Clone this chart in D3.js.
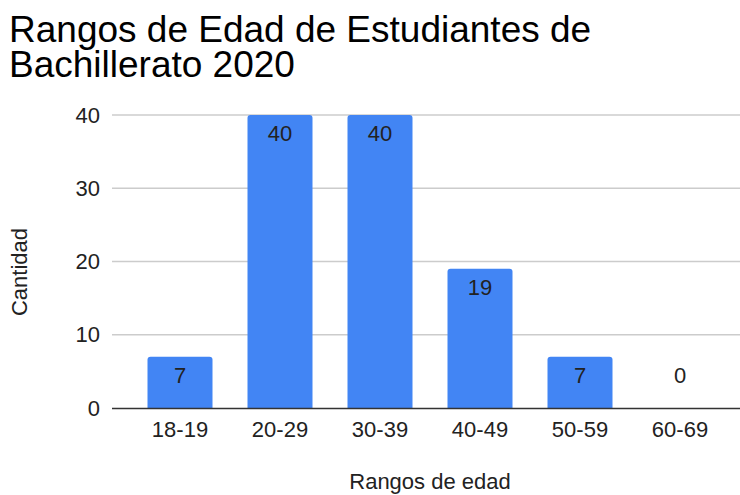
<!DOCTYPE html>
<html>
<head>
<meta charset="utf-8">
<script src="https://cdn.jsdelivr.net/npm/d3@7"></script>
<style>
  body { margin: 0; background: #fff; }
  text { font-family: "Liberation Sans", Arial, sans-serif; }
</style>
</head>
<body>
<script>
// datos
const rangos = ["18-19", "20-29", "30-39", "40-49", "50-59", "60-69"]
const cantidad = [7, 40, 40, 19, 7, 0]
const ticksY = [0, 10, 20, 30, 40]
const tituloLineas = ["Rangos de Edad de Estudiantes de", "Bachillerato 2020"]

const W = 740, H = 495
const area = { left: 112, right: 740, top: 115, bottom: 408 }
const fs = 22

const svg = d3.select("body").append("svg")
    .attr("width", W)
    .attr("height", H)

// escalas
const x = d3.scaleBand()
    .domain(rangos)
    .range([130, 730])
    .paddingInner(0.35)
    .paddingOuter(0.175)

const y = d3.scaleLinear()
    .domain([0, 40])
    .range([area.bottom, area.top])

// lineas de la cuadricula
svg.append("g")
    .selectAll("line")
    .data(ticksY.filter(d => d > 0))
    .join("line")
    .attr("x1", area.left)
    .attr("x2", area.right)
    .attr("y1", d => y(d))
    .attr("y2", d => y(d))
    .attr("stroke", "#cccccc")
    .attr("stroke-width", 1.3)

// etiquetas eje Y
svg.append("g")
    .selectAll("text")
    .data(ticksY)
    .join("text")
    .attr("x", 100)
    .attr("y", d => y(d) + 7.5)
    .attr("text-anchor", "end")
    .attr("font-size", fs)
    .attr("fill", "#222")
    .text(d => d)

// barras (esquinas superiores redondeadas)
function barra(d, i) {
    const x0 = x(rangos[i]), w = x.bandwidth()
    const top = y(d), bot = y(0), r = Math.min(3, bot - top)
    if (bot - top <= 0) return ""
    return `M${x0},${bot}V${top + r}Q${x0},${top} ${x0 + r},${top}H${x0 + w - r}Q${x0 + w},${top} ${x0 + w},${top + r}V${bot}Z`
}

svg.append("g")
    .selectAll("path")
    .data(cantidad)
    .join("path")
    .attr("d", barra)
    .attr("fill", "#4285f4")

// etiquetas de valores
svg.append("g")
    .selectAll("text")
    .data(cantidad)
    .join("text")
    .attr("x", (d, i) => x(rangos[i]) + x.bandwidth() / 2)
    .attr("y", d => d > 3 ? y(d) + 26 : y(0) - 25)
    .attr("text-anchor", "middle")
    .attr("font-size", fs)
    .attr("fill", "#222")
    .text(d => d)

// linea base
svg.append("line")
    .attr("x1", area.left)
    .attr("x2", area.right)
    .attr("y1", y(0) + 0.5)
    .attr("y2", y(0) + 0.5)
    .attr("stroke", "#333")
    .attr("stroke-width", 1.6)

// etiquetas eje X
svg.append("g")
    .selectAll("text")
    .data(rangos)
    .join("text")
    .attr("x", d => x(d) + x.bandwidth() / 2)
    .attr("y", 437)
    .attr("text-anchor", "middle")
    .attr("font-size", fs)
    .attr("fill", "#222")
    .text(d => d)

// titulos de ejes
svg.append("text")
    .attr("x", 430)
    .attr("y", 489)
    .attr("text-anchor", "middle")
    .attr("font-size", fs)
    .attr("fill", "#222")
    .text("Rangos de edad")

svg.append("text")
    .attr("transform", "translate(27,272) rotate(-90)")
    .attr("text-anchor", "middle")
    .attr("font-size", fs)
    .attr("fill", "#222")
    .text("Cantidad")

// titulo
svg.append("g")
    .selectAll("text")
    .data(tituloLineas)
    .join("text")
    .attr("x", 9)
    .attr("y", (d, i) => 42 + i * 34.5)
    .attr("font-size", 37)
    .attr("fill", "#000")
    .text(d => d)
</script>
</body>
</html>
